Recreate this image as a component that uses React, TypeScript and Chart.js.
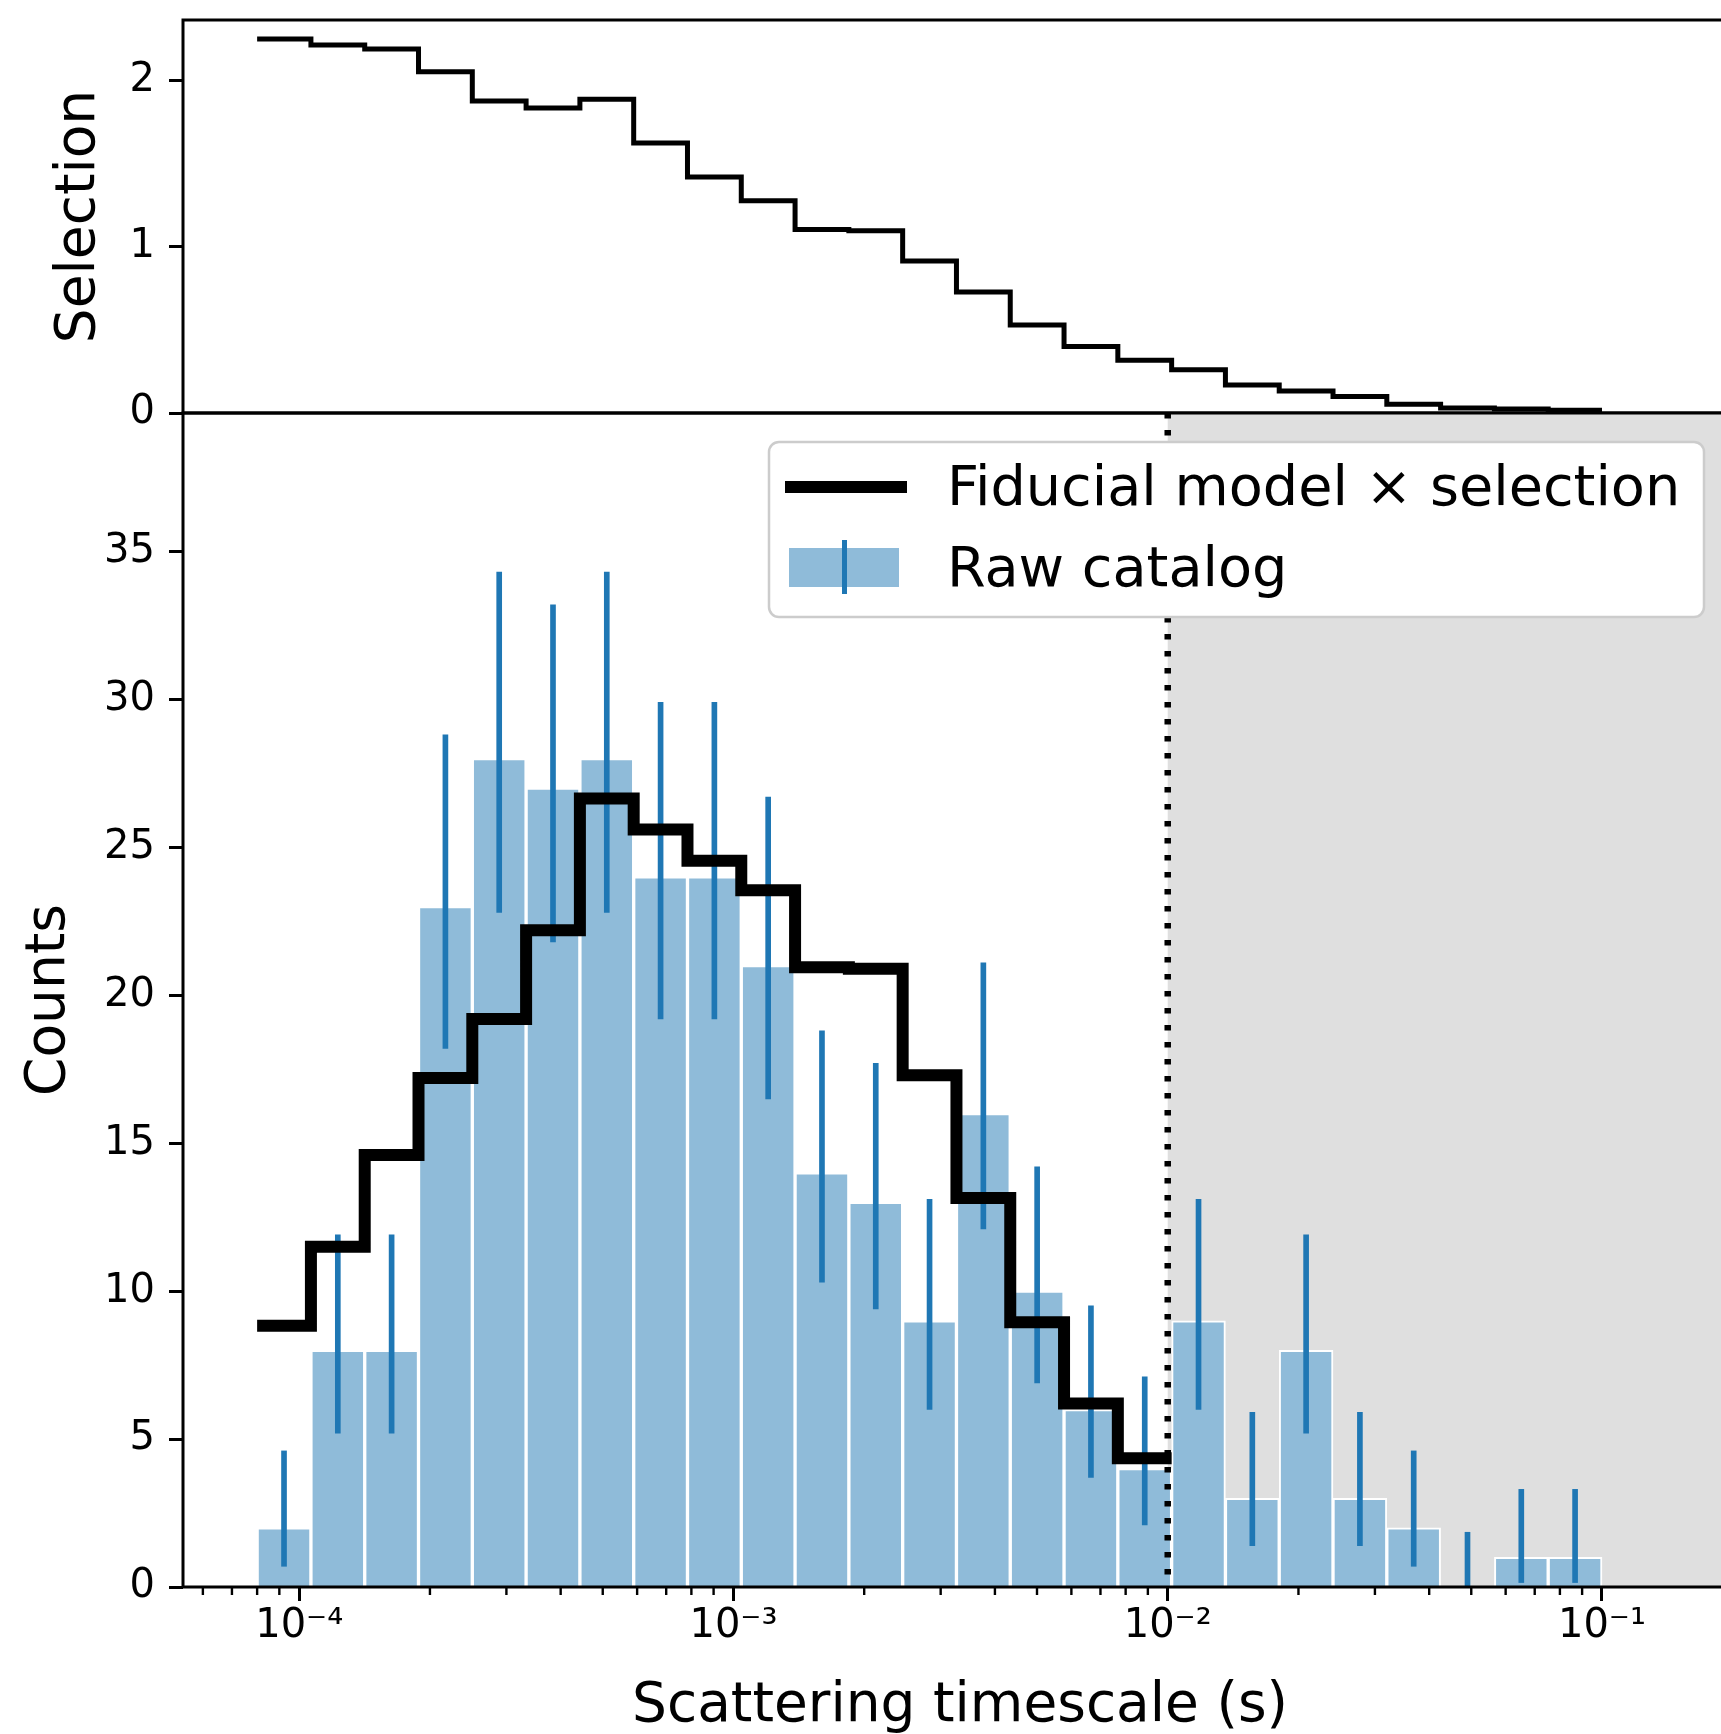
import React, { useEffect, useRef } from 'react';
import { Chart, registerables } from 'chart.js';

Chart.register(...registerables);

// ---------- data ----------
const BIN_LO = 8e-5;
const BIN_HI = 0.1;
const N_BINS = 25;
const BIN_EDGES: number[] = Array.from({ length: N_BINS + 1 }, (_, i) =>
  10 ** (Math.log10(BIN_LO) + (i * (Math.log10(BIN_HI) - Math.log10(BIN_LO))) / N_BINS)
);
const BIN_CENTERS: number[] = BIN_EDGES.slice(0, -1).map((e, i) => Math.sqrt(e * BIN_EDGES[i + 1]));

const RAW_COUNTS = [2, 8, 8, 23, 28, 27, 28, 24, 24, 21, 14, 13, 9, 16, 10, 6, 4, 9, 3, 8, 3, 2, 0, 1, 1];
const RAW_ERR_HIGH = [4.6, 11.9, 11.9, 28.8, 34.3, 33.2, 34.3, 29.9, 29.9, 26.7, 18.8, 17.7, 13.1, 21.1, 14.2, 9.5, 7.1, 13.1, 5.9, 11.9, 5.9, 4.6, 1.85, 3.3, 3.3];
const RAW_ERR_LOW = [0.7, 5.2, 5.2, 18.2, 22.8, 21.8, 22.8, 19.2, 19.2, 16.5, 10.3, 9.4, 6.0, 12.1, 6.9, 3.7, 2.1, 6.0, 1.4, 5.2, 1.4, 0.7, 0, 0.15, 0.15];

const FIDUCIAL_MODEL = [8.83, 11.5, 14.6, 17.2, 19.2, 22.2, 26.65, 25.6, 24.55, 23.55, 20.95, 20.9, 17.3, 13.15, 8.95, 6.2, 4.35];

const SELECTION = [2.25, 2.215, 2.19, 2.053, 1.878, 1.835, 1.888, 1.625, 1.42, 1.277, 1.105, 1.097, 0.915, 0.728, 0.53, 0.4, 0.318, 0.26, 0.168, 0.133, 0.1, 0.052, 0.03, 0.024, 0.017];

const X_MIN = 5.4e-5;
const X_MAX = 0.2046;
const X_MAJOR_TICKS = [1e-4, 1e-3, 1e-2, 1e-1];
const X_TICK_LABELS = ['10⁻⁴', '10⁻³', '10⁻²', '10⁻¹'];
const SEL_MAX = 2.365;
const SEL_TICKS = [0, 1, 2];
const COUNT_MAX = 39.68;
const COUNT_TICKS = [0, 5, 10, 15, 20, 25, 30, 35];
const CUT_VALUE = 0.01;

const LEGEND_LABELS = ['Fiducial model × selection', 'Raw catalog'];

// ---------- layout / style ----------
const W = 1737;
const H = 1734;
const VIEW_W = 1721;
const AXIS_LEFT = 183;
const TOP_PANEL_TOP = 20;
const PANEL_SPLIT = 413;
const X_AXIS_H = 147;
const FONT = 'DejaVu Sans';
const BAR_FILL = '#8fbbd9';
const ERR_COLOR = '#1f77b4';
const SHADE = '#dfdfdf';

Chart.defaults.font.family = FONT;
Chart.defaults.color = '#000';

const framePlugin = {
  id: 'frame',
  afterDatasetsDraw(chart: any) {
    const { ctx, chartArea: a } = chart;
    ctx.save();
    ctx.strokeStyle = '#000';
    ctx.lineWidth = 3;
    ctx.beginPath();
    ctx.moveTo(a.left, a.top);
    ctx.lineTo(a.right, a.top);
    ctx.lineTo(a.right, a.bottom);
    ctx.lineTo(a.left, a.bottom);
    ctx.closePath();
    ctx.stroke();
    ctx.restore();
  },
};

const shadePlugin = {
  id: 'shade',
  beforeDatasetsDraw(chart: any) {
    const { ctx, chartArea: a, scales } = chart;
    const x0 = scales.x.getPixelForValue(CUT_VALUE);
    ctx.save();
    ctx.fillStyle = SHADE;
    ctx.fillRect(x0, a.top, a.right - x0, a.bottom - a.top);
    ctx.restore();
  },
  afterDatasetsDraw(chart: any) {
    const { ctx, chartArea: a, scales } = chart;
    const x0 = scales.x.getPixelForValue(CUT_VALUE);
    ctx.save();
    ctx.strokeStyle = '#000';
    ctx.lineWidth = 6.5;
    ctx.setLineDash([5.5, 11.5]);
    ctx.beginPath();
    ctx.moveTo(x0, a.top);
    ctx.lineTo(x0, a.bottom);
    ctx.stroke();
    ctx.restore();
  },
};

const minorTickPlugin = {
  id: 'minorTicks',
  afterDatasetsDraw(chart: any) {
    const { ctx, chartArea: a, scales } = chart;
    const sx = scales.x;
    ctx.save();
    ctx.strokeStyle = '#000';
    ctx.lineWidth = 2.4;
    for (let d = -6; d <= 0; d++) {
      for (let k = 2; k <= 9; k++) {
        const v = k * 10 ** d;
        if (v < sx.min || v > sx.max) continue;
        const px = sx.getPixelForValue(v);
        ctx.beginPath();
        ctx.moveTo(px, a.bottom);
        ctx.lineTo(px, a.bottom + 8);
        ctx.stroke();
      }
    }
    ctx.restore();
  },
};

const legendPlugin = {
  id: 'customLegend',
  afterDraw(chart: any) {
    const { ctx, chartArea: a } = chart;
    const left = 769;
    const top = a.top + 29;
    const right = 1704;
    const bottom = a.top + 204;
    const r = 10;
    ctx.save();
    ctx.beginPath();
    ctx.moveTo(left + r, top);
    ctx.lineTo(right - r, top);
    ctx.arcTo(right, top, right, top + r, r);
    ctx.lineTo(right, bottom - r);
    ctx.arcTo(right, bottom, right - r, bottom, r);
    ctx.lineTo(left + r, bottom);
    ctx.arcTo(left, bottom, left, bottom - r, r);
    ctx.lineTo(left, top + r);
    ctx.arcTo(left, top, left + r, top, r);
    ctx.closePath();
    ctx.fillStyle = '#ffffff';
    ctx.fill();
    ctx.strokeStyle = '#cccccc';
    ctx.lineWidth = 2.5;
    ctx.stroke();

    // line handle
    const y1 = top + 45;
    ctx.strokeStyle = '#000';
    ctx.lineWidth = 12;
    ctx.beginPath();
    ctx.moveTo(left + 16, y1);
    ctx.lineTo(left + 138, y1);
    ctx.stroke();

    // bar + errorbar handle
    const y2 = top + 126;
    ctx.fillStyle = BAR_FILL;
    ctx.fillRect(left + 20, y2 - 20, 110, 39);
    ctx.fillStyle = ERR_COLOR;
    ctx.fillRect(left + 73, y2 - 28, 5, 54);

    ctx.fillStyle = '#000';
    ctx.font = `55.7px "${FONT}"`;
    ctx.textBaseline = 'middle';
    ctx.textAlign = 'left';
    ctx.fillText(LEGEND_LABELS[0], left + 178, y1 + 4);
    ctx.fillText(LEGEND_LABELS[1], left + 178, y2 + 4);
    ctx.restore();
  },
};

const yAxisCommon = (ticksArr: number[], max: number, title: string, titlePad: number) => ({
  type: 'linear',
  min: 0,
  max,
  afterBuildTicks: (s: any) => {
    s.ticks = ticksArr.map((v) => ({ value: v }));
  },
  afterFit: (s: any) => {
    s.width = AXIS_LEFT;
    s.paddingTop = 0;
    s.paddingBottom = 0;
  },
  ticks: {
    font: { size: 40, family: FONT },
    color: '#000',
    padding: 14,
    callback: (v: any) => String(v),
  },
  grid: {
    drawOnChartArea: false,
    drawTicks: true,
    tickLength: 14,
    tickWidth: 3,
    tickColor: '#000',
  },
  border: { display: false },
  title: {
    display: true,
    text: title,
    color: '#000',
    font: { size: 55, family: FONT, lineHeight: 1.2 },
    padding: { top: titlePad, bottom: 0 },
  },
});

export default function App() {
  const topRef = useRef<HTMLCanvasElement>(null);
  const botRef = useRef<HTMLCanvasElement>(null);

  useEffect(() => {
    document.body.style.margin = '0';
    const selData = SELECTION.map((v, i) => ({ x: BIN_EDGES[i], y: v }));
    selData.push({ x: BIN_EDGES[SELECTION.length], y: SELECTION[SELECTION.length - 1] });

    const top = new Chart(topRef.current as HTMLCanvasElement, {
      type: 'line',
      data: {
        datasets: [
          {
            label: 'Selection',
            data: selData,
            stepped: 'before',
            borderColor: '#000',
            borderWidth: 5,
            pointRadius: 0,
            fill: false,
            borderJoinStyle: 'miter',
            borderCapStyle: 'butt',
          },
        ],
      },
      options: {
        responsive: false,
        animation: false,
        devicePixelRatio: 1,
        layout: { padding: { top: TOP_PANEL_TOP, bottom: H - PANEL_SPLIT, left: 0, right: 0 } },
        plugins: { legend: { display: false }, tooltip: { enabled: false } },
        scales: {
          x: { type: 'logarithmic', min: X_MIN, max: X_MAX, display: false },
          y: yAxisCommon(SEL_TICKS, SEL_MAX, 'Selection', 47),
        },
      } as any,
      plugins: [framePlugin],
    } as any);

    const modelData = FIDUCIAL_MODEL.map((v, i) => ({ x: BIN_EDGES[i], y: v }));
    modelData.push({ x: BIN_EDGES[FIDUCIAL_MODEL.length], y: FIDUCIAL_MODEL[FIDUCIAL_MODEL.length - 1] });

    const bot = new Chart(botRef.current as HTMLCanvasElement, {
      type: 'bar',
      data: {
        datasets: [
          {
            type: 'line',
            label: LEGEND_LABELS[0],
            data: modelData,
            stepped: 'before',
            borderColor: '#000',
            borderWidth: 12,
            pointRadius: 0,
            fill: false,
            borderJoinStyle: 'miter',
            borderCapStyle: 'butt',
            order: 1,
          },
          {
            type: 'bar',
            label: 'errors',
            data: BIN_CENTERS.map((c, i) => ({ x: c, y: [RAW_ERR_LOW[i], RAW_ERR_HIGH[i]] })),
            backgroundColor: ERR_COLOR,
            borderWidth: 0,
            barThickness: 5,
            grouped: false,
            order: 2,
          },
          {
            type: 'bar',
            label: LEGEND_LABELS[1],
            data: BIN_CENTERS.map((c, i) => ({ x: c, y: RAW_COUNTS[i] })),
            backgroundColor: BAR_FILL,
            borderColor: '#ffffff',
            borderWidth: 2,
            barPercentage: 1,
            categoryPercentage: 1,
            grouped: false,
            order: 3,
          },
        ],
      },
      options: {
        responsive: false,
        animation: false,
        devicePixelRatio: 1,
        layout: { padding: { top: PANEL_SPLIT, bottom: 0, left: 0, right: 0 } },
        plugins: { legend: { display: false }, tooltip: { enabled: false } },
        scales: {
          x: {
            type: 'logarithmic',
            min: X_MIN,
            max: X_MAX,
            offset: false,
            afterBuildTicks: (s: any) => {
              s.ticks = X_MAJOR_TICKS.map((v) => ({ value: v }));
            },
            afterFit: (s: any) => {
              s.height = X_AXIS_H;
              s.paddingLeft = 0;
              s.paddingRight = 0;
            },
            ticks: {
              font: { size: 40, family: FONT },
              color: '#000',
              padding: 2,
              maxRotation: 0,
              autoSkip: false,
              callback: (_v: any, i: number) => X_TICK_LABELS[i],
            },
            grid: {
              offset: false,
              drawOnChartArea: false,
              drawTicks: true,
              tickLength: 14,
              tickWidth: 3,
              tickColor: '#000',
            },
            border: { display: false },
            title: {
              display: true,
              text: 'Scattering timescale (s)',
              color: '#000',
              font: { size: 55, family: FONT, lineHeight: 1.0 },
              padding: { top: 0, bottom: 0 },
            },
          },
          y: yAxisCommon(COUNT_TICKS, COUNT_MAX, 'Counts', 17),
        },
      } as any,
      plugins: [shadePlugin, framePlugin, minorTickPlugin, legendPlugin],
    } as any);

    return () => {
      top.destroy();
      bot.destroy();
    };
  }, []);

  const canvasStyle: React.CSSProperties = { position: 'absolute', left: 0, top: 0, width: W, height: H };
  return (
    <div style={{ position: 'absolute', left: 0, top: 0, width: VIEW_W, height: H, overflow: 'hidden', background: '#fff' }}>
      <canvas ref={topRef} width={W} height={H} style={canvasStyle} />
      <canvas ref={botRef} width={W} height={H} style={canvasStyle} />
    </div>
  );
}
